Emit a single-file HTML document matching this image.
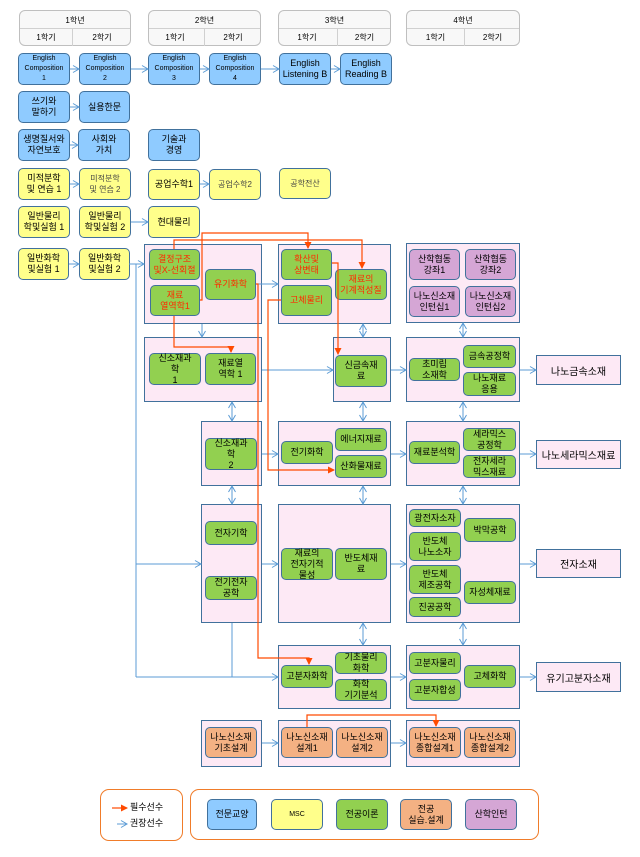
<!DOCTYPE html>
<html><head><meta charset="utf-8"><style>
body{margin:0;width:640px;height:857px;background:#fff;position:relative;overflow:hidden;font-family:"Liberation Sans","Noto Sans CJK KR",sans-serif;}
.b{position:absolute;box-sizing:border-box;border:1px solid #41719c;border-radius:5px;display:flex;align-items:center;justify-content:center;text-align:center;font-size:9px;line-height:11px;color:#000;}
.bl{background:#8fcbff}.ye{background:#ffff8b}.gr{background:#92d050}.or{background:#f4b183}.pu{background:#d5a6d5}
.r{color:#ff2a00}.lt{color:#444;font-size:8px}
.c{position:absolute;box-sizing:border-box;border:1px solid #41719c;background:#fde9f5;}
.o{position:absolute;box-sizing:border-box;border:1px solid #41719c;background:#fde9f5;display:flex;align-items:center;justify-content:center;font-size:10px;}
.h{position:absolute;box-sizing:border-box;border:1px solid #bfbfbf;border-radius:6px;background:#f8f8f8;font-size:8px;}
.h div{position:absolute;text-align:center;}
.lg{position:absolute;box-sizing:border-box;border:1.5px solid #f07c2a;border-radius:9px;}
svg{position:absolute;left:0;top:0}
</style></head><body>

<div class="h" style="left:19px;top:10px;width:112px;height:36px"><div style="left:0;top:4px;width:100%">1학년</div><div style="left:0;top:17px;width:100%;border-top:1px solid #d0d0d0;height:1px"></div><div style="left:0;top:21px;width:52px">1학기</div><div style="left:52px;top:18px;width:1px;height:17px;background:#d0d0d0"></div><div style="left:56px;top:21px;width:52px">2학기</div></div>
<div class="h" style="left:148px;top:10px;width:113px;height:36px"><div style="left:0;top:4px;width:100%">2학년</div><div style="left:0;top:17px;width:100%;border-top:1px solid #d0d0d0;height:1px"></div><div style="left:0;top:21px;width:52px">1학기</div><div style="left:55px;top:18px;width:1px;height:17px;background:#d0d0d0"></div><div style="left:58px;top:21px;width:52px">2학기</div></div>
<div class="h" style="left:278px;top:10px;width:113px;height:36px"><div style="left:0;top:4px;width:100%">3학년</div><div style="left:0;top:17px;width:100%;border-top:1px solid #d0d0d0;height:1px"></div><div style="left:0;top:21px;width:56px">1학기</div><div style="left:58px;top:18px;width:1px;height:17px;background:#d0d0d0"></div><div style="left:58px;top:21px;width:55px">2학기</div></div>
<div class="h" style="left:406px;top:10px;width:114px;height:36px"><div style="left:0;top:4px;width:100%">4학년</div><div style="left:0;top:17px;width:100%;border-top:1px solid #d0d0d0;height:1px"></div><div style="left:0;top:21px;width:57px">1학기</div><div style="left:57px;top:18px;width:1px;height:17px;background:#d0d0d0"></div><div style="left:57px;top:21px;width:57px">2학기</div></div>

<div class="b bl" style="left:18px;top:53px;width:52px;height:32px;font-size:7px;line-height:10px">English<br>Composition<br>1</div>
<div class="b bl" style="left:79px;top:53px;width:52px;height:32px;font-size:7px;line-height:10px">English<br>Composition<br>2</div>
<div class="b bl" style="left:148px;top:53px;width:52px;height:32px;font-size:7px;line-height:10px">English<br>Composition<br>3</div>
<div class="b bl" style="left:209px;top:53px;width:52px;height:32px;font-size:7px;line-height:10px">English<br>Composition<br>4</div>
<div class="b bl" style="left:279px;top:53px;width:52px;height:32px">English<br>Listening B</div>
<div class="b bl" style="left:340px;top:53px;width:52px;height:32px">English<br>Reading B</div>
<div class="b bl" style="left:18px;top:91px;width:52px;height:32px">쓰기와<br>말하기</div>
<div class="b bl" style="left:79px;top:91px;width:51px;height:32px">실용한문</div>
<div class="b bl" style="left:18px;top:129px;width:52px;height:32px">생명질서와<br>자연보호</div>
<div class="b bl" style="left:78px;top:129px;width:52px;height:32px">사회와<br>가치</div>
<div class="b bl" style="left:148px;top:129px;width:52px;height:32px">기술과<br>경영</div>
<div class="b ye" style="left:18px;top:168px;width:52px;height:32px">미적분학<br>및 연습 1</div>
<div class="b ye lt" style="left:79px;top:168px;width:52px;height:32px">미적분학<br>및 연습 2</div>
<div class="b ye" style="left:148px;top:169px;width:52px;height:31px">공업수학1</div>
<div class="b ye lt" style="left:209px;top:169px;width:52px;height:31px">공업수학2</div>
<div class="b ye lt" style="left:279px;top:168px;width:52px;height:31px">공학전산</div>
<div class="b ye" style="left:18px;top:206px;width:52px;height:32px">일반물리<br>학및실험 1</div>
<div class="b ye" style="left:79px;top:206px;width:52px;height:32px">일반물리<br>학및실험 2</div>
<div class="b ye" style="left:148px;top:206px;width:52px;height:32px">현대물리</div>
<div class="b ye" style="left:18px;top:248px;width:51px;height:32px">일반화학<br>및실험 1</div>
<div class="b ye" style="left:79px;top:248px;width:51px;height:32px">일반화학<br>및실험 2</div>

<div class="c" style="left:144px;top:244px;width:118px;height:80px"></div>
<div class="c" style="left:278px;top:244px;width:113px;height:80px"></div>
<div class="c" style="left:406px;top:243px;width:114px;height:80px"></div>
<div class="c" style="left:144px;top:337px;width:118px;height:65px"></div>
<div class="c" style="left:333px;top:337px;width:58px;height:65px"></div>
<div class="c" style="left:406px;top:337px;width:114px;height:65px"></div>
<div class="c" style="left:201px;top:421px;width:61px;height:65px"></div>
<div class="c" style="left:278px;top:421px;width:113px;height:65px"></div>
<div class="c" style="left:406px;top:421px;width:114px;height:65px"></div>
<div class="c" style="left:201px;top:504px;width:61px;height:119px"></div>
<div class="c" style="left:278px;top:504px;width:113px;height:119px"></div>
<div class="c" style="left:406px;top:504px;width:114px;height:119px"></div>
<div class="c" style="left:278px;top:645px;width:113px;height:64px"></div>
<div class="c" style="left:406px;top:645px;width:114px;height:64px"></div>
<div class="c" style="left:201px;top:720px;width:61px;height:47px"></div>
<div class="c" style="left:278px;top:720px;width:113px;height:47px"></div>
<div class="c" style="left:406px;top:720px;width:114px;height:47px"></div>

<div class="o" style="left:536px;top:355px;width:85px;height:30px">나노금속소재</div>
<div class="o" style="left:536px;top:440px;width:85px;height:29px">나노세라믹스재료</div>
<div class="o" style="left:536px;top:549px;width:85px;height:29px">전자소재</div>
<div class="o" style="left:536px;top:662px;width:85px;height:30px">유기고분자소재</div>

<div class="b gr r" style="left:149px;top:249px;width:51px;height:31px">결정구조<br>및X-선회절</div>
<div class="b gr r" style="left:150px;top:285px;width:50px;height:31px">재료<br>열역학1</div>
<div class="b gr r" style="left:205px;top:269px;width:51px;height:31px">유기화학</div>
<div class="b gr r" style="left:281px;top:249px;width:51px;height:31px">확산및<br>상변태</div>
<div class="b gr r" style="left:281px;top:285px;width:51px;height:31px">고체물리</div>
<div class="b gr r" style="left:335px;top:269px;width:52px;height:31px">재료의<br>기계적성질</div>
<div class="b pu" style="left:409px;top:249px;width:51px;height:31px">산학협동<br>강좌1</div>
<div class="b pu" style="left:465px;top:249px;width:51px;height:31px">산학협동<br>강좌2</div>
<div class="b pu" style="left:409px;top:286px;width:51px;height:31px">나노신소재<br>인턴십1</div>
<div class="b pu" style="left:465px;top:286px;width:51px;height:31px">나노신소재<br>인턴십2</div>

<div class="b gr" style="left:149px;top:353px;width:52px;height:32px">신소재과<br>학<br>1</div>
<div class="b gr" style="left:205px;top:353px;width:51px;height:32px">재료열<br>역학 1</div>
<div class="b gr" style="left:335px;top:355px;width:52px;height:32px">신금속재<br>료</div>
<div class="b gr" style="left:409px;top:358px;width:51px;height:23px">초미립<br>소재학</div>
<div class="b gr" style="left:463px;top:345px;width:53px;height:23px">금속공정학</div>
<div class="b gr" style="left:463px;top:372px;width:53px;height:24px">나노재료<br>응용</div>

<div class="b gr" style="left:205px;top:438px;width:52px;height:32px">신소재과<br>학<br>2</div>
<div class="b gr" style="left:281px;top:441px;width:52px;height:23px">전기화학</div>
<div class="b gr" style="left:335px;top:428px;width:52px;height:23px">에너지재료</div>
<div class="b gr" style="left:335px;top:455px;width:52px;height:23px">산화물재료</div>
<div class="b gr" style="left:409px;top:441px;width:51px;height:23px">재료분석학</div>
<div class="b gr" style="left:463px;top:428px;width:53px;height:23px">세라믹스<br>공정학</div>
<div class="b gr" style="left:463px;top:455px;width:53px;height:23px">전자세라<br>믹스재료</div>

<div class="b gr" style="left:205px;top:521px;width:52px;height:24px">전자기학</div>
<div class="b gr" style="left:205px;top:576px;width:52px;height:24px">전기전자<br>공학</div>
<div class="b gr" style="left:281px;top:548px;width:52px;height:32px">재료의<br>전자기적<br>물성</div>
<div class="b gr" style="left:335px;top:548px;width:52px;height:32px">반도체재<br>료</div>
<div class="b gr" style="left:409px;top:509px;width:52px;height:18px">광전자소자</div>
<div class="b gr" style="left:409px;top:532px;width:52px;height:29px">반도체<br>나노소자</div>
<div class="b gr" style="left:409px;top:565px;width:52px;height:29px">반도체<br>제조공학</div>
<div class="b gr" style="left:409px;top:597px;width:52px;height:20px">진공공학</div>
<div class="b gr" style="left:464px;top:518px;width:52px;height:24px">박막공학</div>
<div class="b gr" style="left:464px;top:581px;width:52px;height:23px">자성체재료</div>

<div class="b gr" style="left:281px;top:665px;width:52px;height:23px">고분자화학</div>
<div class="b gr" style="left:335px;top:652px;width:52px;height:22px">기초물리<br>화학</div>
<div class="b gr" style="left:335px;top:679px;width:52px;height:22px">화학<br>기기분석</div>
<div class="b gr" style="left:409px;top:652px;width:52px;height:22px">고분자물리</div>
<div class="b gr" style="left:409px;top:679px;width:52px;height:22px">고분자합성</div>
<div class="b gr" style="left:464px;top:665px;width:52px;height:23px">고체화학</div>

<div class="b or" style="left:205px;top:727px;width:52px;height:31px">나노신소재<br>기초설계</div>
<div class="b or" style="left:281px;top:727px;width:52px;height:31px">나노신소재<br>설계1</div>
<div class="b or" style="left:336px;top:727px;width:52px;height:31px">나노신소재<br>설계2</div>
<div class="b or" style="left:409px;top:727px;width:52px;height:31px">나노신소재<br>종합설계1</div>
<div class="b or" style="left:464px;top:727px;width:52px;height:31px">나노신소재<br>종합설계2</div>

<div class="lg" style="left:100px;top:789px;width:83px;height:52px"></div>
<div class="lg" style="left:190px;top:789px;width:349px;height:51px"></div>
<div style="position:absolute;left:130px;top:800px;font-size:9px">필수선수</div>
<div style="position:absolute;left:130px;top:816px;font-size:9px">권장선수</div>
<div class="b bl" style="left:207px;top:799px;width:50px;height:31px">전문교양</div>
<div class="b ye" style="left:271px;top:799px;width:52px;height:31px;font-size:7px">MSC</div>
<div class="b gr" style="left:336px;top:799px;width:52px;height:31px">전공이론</div>
<div class="b or" style="left:400px;top:799px;width:52px;height:31px">전공<br>실습.설계</div>
<div class="b pu" style="left:465px;top:799px;width:52px;height:31px">산학인턴</div>

<svg width="640" height="857" viewBox="0 0 640 857">
<defs>
<marker id="ba" markerWidth="8" markerHeight="8" refX="7" refY="4" orient="auto" markerUnits="userSpaceOnUse"><path d="M1,0.5 L7,4 L1,7.5" fill="none" stroke="#5b9bd5" stroke-width="1"/></marker>
<marker id="bs" markerWidth="8" markerHeight="8" refX="1" refY="4" orient="auto" markerUnits="userSpaceOnUse"><path d="M7,0.5 L1,4 L7,7.5" fill="none" stroke="#5b9bd5" stroke-width="1"/></marker>
<marker id="ra" markerWidth="8" markerHeight="8" refX="6" refY="4" orient="auto" markerUnits="userSpaceOnUse"><path d="M0,0.5 L7,4 L0,7.5Z" fill="#ff4a00"/></marker>
</defs>
<g stroke="#5b9bd5" stroke-width="1" fill="none" marker-end="url(#ba)">
<path d="M70 69H79"/><path d="M131 69H148"/><path d="M200 69H209"/><path d="M261 69H279"/><path d="M331 69H340"/>
<path d="M70 107H79"/><path d="M70 145H78"/><path d="M70 184H79"/><path d="M200 184H209"/><path d="M131 222H148"/><path d="M69 264H79"/>
<path d="M129 264H144"/><path d="M256 284H278"/><path d="M202 324V337"/><path d="M262 370H333"/><path d="M391 370H406"/><path d="M520 370H536"/>
<path d="M262 454H278"/><path d="M391 454H406"/><path d="M520 454H536"/>
<path d="M136 564H201"/><path d="M262 564H278"/><path d="M391 564H406"/><path d="M520 564H536"/>
<path d="M136 677H278"/><path d="M391 677H406"/><path d="M520 677H536"/>
<path d="M262 743H278"/><path d="M391 743H406"/>
<path d="M117 824H127"/>
</g>
<g stroke="#5b9bd5" stroke-width="1" fill="none">
<path d="M136 264V677M232 623V677"/>
</g>
<g stroke="#5b9bd5" stroke-width="1" fill="none" marker-start="url(#bs)" marker-end="url(#ba)">
<path d="M232 402V421"/><path d="M232 486V504"/><path d="M363 324V337"/><path d="M363 402V421"/><path d="M363 486V504"/><path d="M363 623V645"/>
<path d="M463 323V337"/><path d="M463 402V421"/><path d="M463 486V504"/><path d="M463 623V645"/>
</g>
<g stroke="#ff4a00" stroke-width="1.2" fill="none" marker-end="url(#ra)">
<path d="M174 249V240H362V268"/>
<path d="M200 300H202V233H308V248"/>
<path d="M174 316V347H231V352"/>
<path d="M256 284H258V658H309V664"/>
<path d="M281 300H268V470H334"/>
<path d="M332 263H338V354"/>
<path d="M307 727V715H436V726"/>
<path d="M112 808H127"/>
</g>
</svg>
</body></html>
